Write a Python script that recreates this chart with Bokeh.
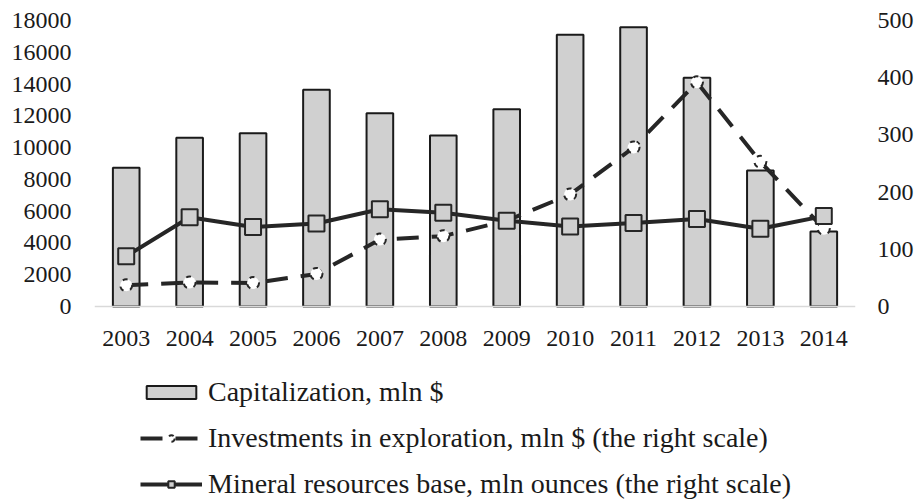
from bokeh.plotting import figure
from bokeh.models import Range1d, LinearAxis, FixedTicker, Legend, LegendItem, ColumnDataSource
from bokeh.embed import file_html
from bokeh.resources import INLINE

years = ["2003", "2004", "2005", "2006", "2007", "2008", "2009", "2010", "2011", "2012", "2013", "2014"]
capitalization = [8730, 10620, 10900, 13640, 12170, 10760, 12420, 17100, 17580, 14390, 8560, 4720]
investments = [37, 42, 41, 57, 117, 123, 150, 196, 278, 392, 253, 136]
mineral_base = [88, 156, 139, 145, 170, 164, 150, 140, 146, 153, 136, 158]
left_ticks = [0, 2000, 4000, 6000, 8000, 10000, 12000, 14000, 16000, 18000]
right_ticks = [0, 100, 200, 300, 400, 500]

FONT = "Liberation Serif"
FS = "24px"
LFS = "28px"
DARK = "#262626"
GREY = "#d0d0d0"

# plot frame extends below the zero line to host the legend (0 sits 286px below the top tick)
FRAME_H, ZERO_PX = 480, 286
below_frac = (FRAME_H - ZERO_PX) / ZERO_PX

src = ColumnDataSource(dict(year=years, cap=capitalization, inv=investments, mrb=mineral_base))

p = figure(x_range=years, y_range=Range1d(-18000 * below_frac, 18000),
           frame_width=761, frame_height=FRAME_H,
           min_border_left=94, min_border_right=60, min_border_top=20, min_border_bottom=0,
           output_backend="svg", toolbar_location=None, y_axis_location=None)
p.extra_y_ranges = {"right": Range1d(-500 * below_frac, 500)}
p.x_range.range_padding = 0
p.outline_line_color = None
p.grid.grid_line_color = None
p.background_fill_color = "white"
p.border_fill_color = "white"

left = LinearAxis(ticker=FixedTicker(ticks=left_ticks))
right = LinearAxis(y_range_name="right", ticker=FixedTicker(ticks=right_ticks))
p.add_layout(left, "left")
p.add_layout(right, "right")

for ax in [left, right]:
    ax.axis_line_color = None
    ax.major_tick_line_color = None
    ax.minor_tick_line_color = None
    ax.major_tick_out = 0
    ax.major_tick_in = 0
    ax.major_label_text_font = FONT
    ax.major_label_text_font_size = FS
    ax.major_label_text_color = "#1a1a1a"
left.major_label_standoff = 23
right.major_label_standoff = 22

xa = p.xaxis[0]
xa.fixed_location = 0
xa.axis_line_color = "#d9d9d9"
xa.axis_line_width = 1.5
xa.major_tick_line_color = None
xa.minor_tick_line_color = None
xa.major_tick_out = 0
xa.major_tick_in = 0
xa.major_label_text_font = FONT
xa.major_label_text_font_size = FS
xa.major_label_text_color = "#1a1a1a"
xa.major_label_standoff = 24

bars = p.vbar(x="year", top="cap", bottom=0, width=0.42, source=src, fill_color=GREY,
              line_color="#1a1a1a", line_width=2)

inv_line = p.line(x="year", y="inv", source=src, y_range_name="right", line_color=DARK,
                  line_width=4, line_dash="22 13")
inv_pts = p.scatter(x="year", y="inv", source=src, y_range_name="right", marker="circle",
                    size=12, fill_color="white", line_color=DARK, line_width=2, line_dash="5 7")

mrb_line = p.line(x="year", y="mrb", source=src, y_range_name="right", line_color=DARK, line_width=4)
mrb_pts = p.scatter(x="year", y="mrb", source=src, y_range_name="right", marker="square",
                    size=16, fill_color=GREY, line_color=DARK, line_width=2)

legend = Legend(items=[
    LegendItem(label="Capitalization, mln $", renderers=[bars]),
    LegendItem(label="Investments in exploration, mln $ (the right scale)", renderers=[inv_line, inv_pts]),
    LegendItem(label="Mineral resources base, mln ounces (the right scale)", renderers=[mrb_line, mrb_pts]),
], location=(46, 0), orientation="vertical")
legend.border_line_color = None
legend.background_fill_alpha = 0
legend.padding = 0
legend.margin = 0
legend.spacing = 14
legend.glyph_width = 62
legend.glyph_height = 16
legend.label_height = 32
legend.label_standoff = 6
legend.label_text_font = FONT
legend.label_text_font_size = LFS
legend.label_text_color = "#1a1a1a"
p.add_layout(legend, "center")

open("out.html", "w").write(file_html(p, INLINE))
